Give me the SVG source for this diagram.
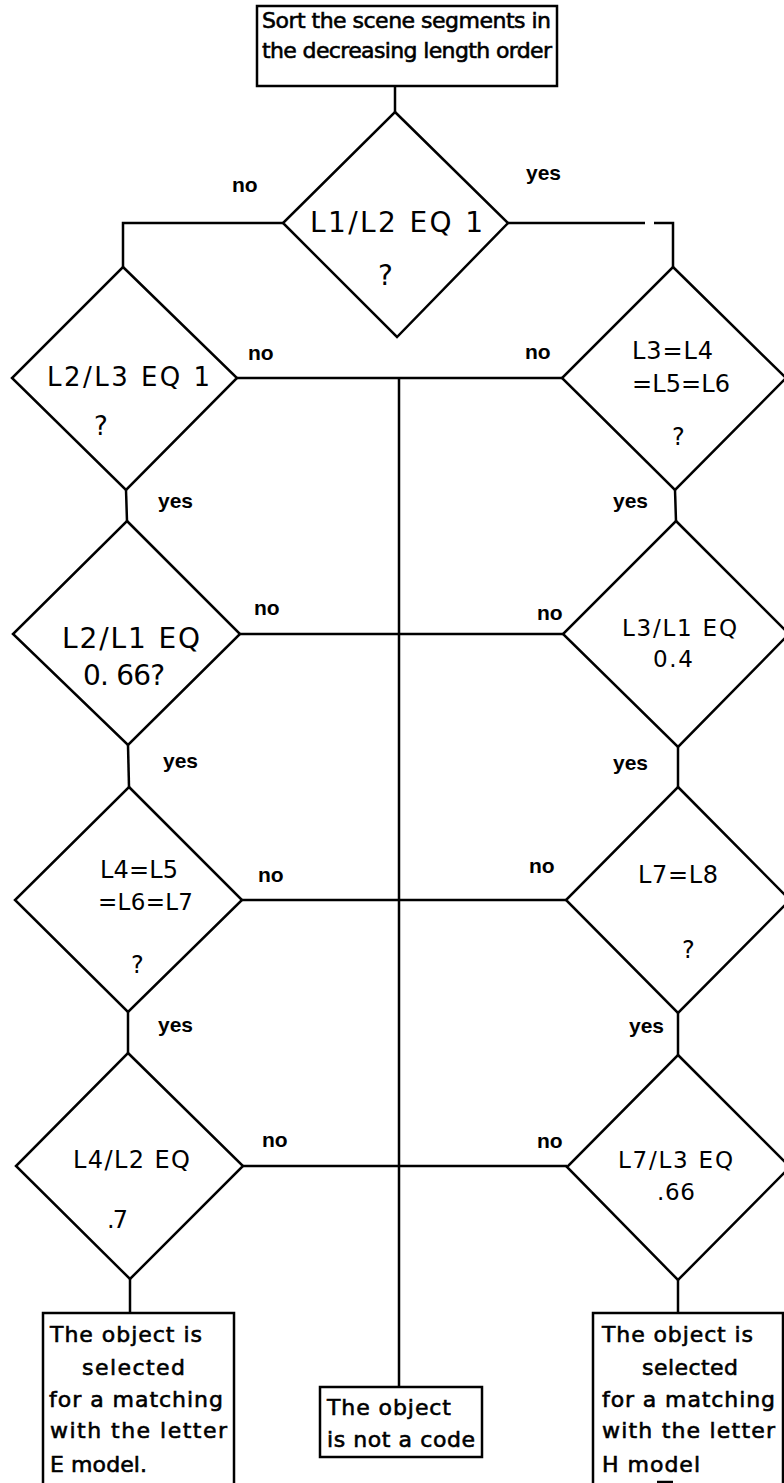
<svg xmlns="http://www.w3.org/2000/svg" width="784" height="1483" viewBox="0 0 784 1483">
<style>
.sh{fill:#fff;stroke:#000;stroke-width:2.5;stroke-linejoin:miter}
.ln{fill:none;stroke:#000;stroke-width:2.5}
.bt{font-family:"DejaVu Sans","Liberation Sans",sans-serif;font-size:22px;fill:#000;stroke:#000;stroke-width:0.6}
.dt{font-family:"DejaVu Sans","Liberation Sans",sans-serif;font-size:24px;fill:#000}
.lb{font-family:"Liberation Sans",Arial,sans-serif;font-weight:bold;font-size:21px;fill:#000}
</style>
<rect width="784" height="1483" fill="#fff"/>
<g id="connectors">
<path class="ln" d="M395 86V112"/>
<path class="ln" d="M283 223H123V267"/>
<path class="ln" d="M508 223H645M654 223H673V267"/>
<path class="ln" d="M126 490L127 521"/>
<path class="ln" d="M675 490L676 521"/>
<path class="ln" d="M128 745L129 787"/>
<path class="ln" d="M678 747V787"/>
<path class="ln" d="M128 1012V1053"/>
<path class="ln" d="M678 1013V1055"/>
<path class="ln" d="M130 1279V1313"/>
<path class="ln" d="M678 1280V1313"/>
<path class="ln" d="M237 378H562"/>
<path class="ln" d="M240 634H563"/>
<path class="ln" d="M242 900H566"/>
<path class="ln" d="M243 1166H567"/>
<path class="ln" d="M399 378V1387"/>
<text class="lb" x="232" y="192">no</text>
<text class="lb" x="526" y="180">yes</text>
<text class="lb" x="248" y="360">no</text>
<text class="lb" x="525" y="359">no</text>
<text class="lb" x="158" y="508">yes</text>
<text class="lb" x="613" y="508">yes</text>
<text class="lb" x="254" y="615">no</text>
<text class="lb" x="537" y="620">no</text>
<text class="lb" x="163" y="768">yes</text>
<text class="lb" x="613" y="770">yes</text>
<text class="lb" x="258" y="882">no</text>
<text class="lb" x="529" y="873">no</text>
<text class="lb" x="158" y="1032">yes</text>
<text class="lb" x="629" y="1033">yes</text>
<text class="lb" x="262" y="1147">no</text>
<text class="lb" x="537" y="1148">no</text>
</g>
<g id="start">
<rect class="sh" x="257" y="6" width="300" height="80"/>
<text class="bt" x="262" y="28" textLength="289" lengthAdjust="spacing">Sort the scene segments in</text>
<text class="bt" x="262" y="58" textLength="290" lengthAdjust="spacing">the decreasing length order</text>
</g>
<g id="d0">
<polygon class="sh" points="395,112 508,223 397,337 283,223"/>
<text class="dt" style="font-size:28px" x="310" y="232" textLength="173" lengthAdjust="spacing">L1/L2 EQ 1</text>
<text class="dt" style="font-size:28px" x="378" y="285">?</text>
</g>
<g id="l1">
<polygon class="sh" points="123,267 237,378 126,490 12,378"/>
<text class="dt" style="font-size:26px" x="47" y="386" textLength="163" lengthAdjust="spacing">L2/L3 EQ 1</text>
<text class="dt" style="font-size:26px" x="94" y="435">?</text>
</g>
<g id="r1">
<polygon class="sh" points="673,267 786,378 675,490 562,378"/>
<text class="dt" x="632" y="359" textLength="81" lengthAdjust="spacing">L3=L4</text>
<text class="dt" x="632" y="392" textLength="98" lengthAdjust="spacing">=L5=L6</text>
<text class="dt" x="672" y="445">?</text>
</g>
<g id="l2">
<polygon class="sh" points="127,521 240,634 128,745 13,634"/>
<text class="dt" style="font-size:28px" x="62" y="648" textLength="138" lengthAdjust="spacing">L2/L1 EQ</text>
<text class="dt" style="font-size:28px" x="83" y="685" textLength="82" lengthAdjust="spacing">0. 66?</text>
</g>
<g id="r2">
<polygon class="sh" points="676,521 789,634 678,747 563,634"/>
<text class="dt" style="font-size:23px" x="622" y="636" textLength="115" lengthAdjust="spacing">L3/L1 EQ</text>
<text class="dt" style="font-size:23px" x="653" y="667" textLength="40" lengthAdjust="spacing">0.4</text>
</g>
<g id="l3">
<polygon class="sh" points="129,787 242,900 128,1012 15,900"/>
<text class="dt" x="100" y="878" textLength="78" lengthAdjust="spacing">L4=L5</text>
<text class="dt" style="font-size:23px" x="98" y="910" textLength="95" lengthAdjust="spacing">=L6=L7</text>
<text class="dt" x="131" y="973">?</text>
</g>
<g id="r3">
<polygon class="sh" points="678,787 790,900 678,1013 566,900"/>
<text class="dt" x="638" y="883" textLength="80" lengthAdjust="spacing">L7=L8</text>
<text class="dt" x="682" y="958">?</text>
</g>
<g id="l4">
<polygon class="sh" points="128,1053 243,1166 130,1279 16,1166"/>
<text class="dt" x="73" y="1168" textLength="117" lengthAdjust="spacing">L4/L2 EQ</text>
<text class="dt" x="107" y="1228" textLength="21" lengthAdjust="spacing">.7</text>
</g>
<g id="r4">
<polygon class="sh" points="678,1055 790,1167 678,1280 567,1167"/>
<text class="dt" style="font-size:23px" x="618" y="1168" textLength="115" lengthAdjust="spacing">L7/L3 EQ</text>
<text class="dt" style="font-size:23px" x="657" y="1200" textLength="38" lengthAdjust="spacing">.66</text>
</g>
<g id="endE">
<rect class="sh" x="43" y="1313" width="191" height="190"/>
<text class="bt" x="50" y="1342" textLength="152" lengthAdjust="spacing">The object is</text>
<text class="bt" x="82" y="1375" textLength="103" lengthAdjust="spacing">selected</text>
<text class="bt" x="49" y="1407" textLength="174" lengthAdjust="spacing">for a matching</text>
<text class="bt" x="50" y="1438" textLength="177" lengthAdjust="spacing">with the letter</text>
<text class="bt" x="50" y="1472" textLength="97" lengthAdjust="spacing">E model.</text>
</g>
<g id="notcode">
<rect class="sh" x="320" y="1387" width="162" height="70"/>
<text class="bt" x="327" y="1415" textLength="124" lengthAdjust="spacing">The object</text>
<text class="bt" x="327" y="1447" textLength="148" lengthAdjust="spacing">is not a code</text>
</g>
<g id="endH">
<rect class="sh" x="593" y="1313" width="190" height="190"/>
<text class="bt" x="602" y="1342" textLength="151" lengthAdjust="spacing">The object is</text>
<text class="bt" x="642" y="1375" textLength="96" lengthAdjust="spacing">selected</text>
<text class="bt" x="602" y="1407" textLength="173" lengthAdjust="spacing">for a matching</text>
<text class="bt" x="602" y="1438" textLength="173" lengthAdjust="spacing">with the letter</text>
<text class="bt" x="602" y="1472" textLength="98" lengthAdjust="spacing">H model</text>
<path class="ln" d="M657 1482H673"/>
</g>
</svg>
